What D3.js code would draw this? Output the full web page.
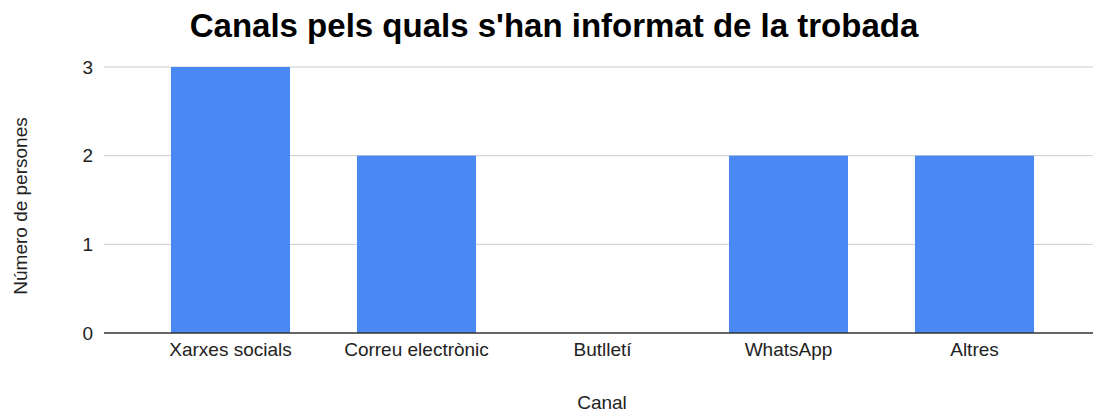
<!DOCTYPE html>
<html>
<head>
<meta charset="utf-8">
<script src="https://cdn.jsdelivr.net/npm/d3@7"></script>
<style>
  body { margin: 0; background: #fff; }
  text { font-family: "Liberation Sans", Arial, sans-serif; }
</style>
</head>
<body>
<div id="chart"></div>
<script>
var canals = ["Xarxes socials", "Correu electrònic", "Butlletí", "WhatsApp", "Altres"];
var persones = [3, 2, 0, 2, 2];
var yTicks = [0, 1, 2, 3];

var svgWidth = 1094;
var svgHeight = 414;

var margin = { top: 67, right: 1, bottom: 81, left: 104 };
var width = svgWidth - margin.left - margin.right;
var height = svgHeight - margin.top - margin.bottom;

var svg = d3.select("#chart")
  .append("svg")
  .attr("width", svgWidth)
  .attr("height", svgHeight);

var chartGroup = svg.append("g")
  .attr("transform", `translate(${margin.left}, ${margin.top})`);

// scales
var xScale = d3.scaleBand()
  .domain(canals)
  .range([33.5, 963.5])
  .paddingInner(0.36)
  .paddingOuter(0.18);

var yScale = d3.scaleLinear()
  .domain([0, 3])
  .range([height, 0]);

// gridlines
chartGroup.append("g")
  .selectAll("line")
  .data(yTicks.filter(d => d > 0))
  .enter()
  .append("line")
  .attr("x1", 0)
  .attr("x2", width)
  .attr("y1", d => yScale(d))
  .attr("y2", d => yScale(d))
  .attr("stroke", "#cccccc")
  .attr("stroke-width", 1);

// y tick labels
var yAxis = d3.axisLeft(yScale).tickValues(yTicks).tickSize(0).tickPadding(11).tickFormat(d3.format("d"));
var yG = chartGroup.append("g").call(yAxis);
yG.select(".domain").remove();
yG.selectAll("text")
  .attr("font-size", 19)
  .attr("fill", "#222")
  .style("font-family", "Liberation Sans, Arial, sans-serif");

// bars
chartGroup.selectAll("rect.bar")
  .data(canals)
  .enter()
  .append("rect")
  .attr("class", "bar")
  .attr("x", d => xScale(d))
  .attr("width", xScale.bandwidth())
  .attr("y", (d, i) => yScale(persones[i]))
  .attr("height", (d, i) => height - yScale(persones[i]))
  .attr("fill", "#4a89f3");

// baseline
chartGroup.append("line")
  .attr("x1", 0)
  .attr("x2", width)
  .attr("y1", yScale(0))
  .attr("y2", yScale(0))
  .attr("stroke", "#333333")
  .attr("stroke-width", 1.3);

// x labels
var xAxis = d3.axisBottom(xScale).tickSize(0).tickPadding(10);
var xG = chartGroup.append("g")
  .attr("transform", `translate(0, ${height})`)
  .call(xAxis);
xG.select(".domain").remove();
xG.selectAll("text")
  .attr("font-size", 19)
  .attr("fill", "#222")
  .style("font-family", "Liberation Sans, Arial, sans-serif");

// title
svg.append("text")
  .attr("x", 554)
  .attr("y", 37)
  .attr("text-anchor", "middle")
  .attr("font-size", 33)
  .attr("font-weight", "bold")
  .attr("fill", "#000")
  .text("Canals pels quals s'han informat de la trobada");

// axis titles
svg.append("text")
  .attr("x", 602)
  .attr("y", 409)
  .attr("text-anchor", "middle")
  .attr("font-size", 19)
  .attr("fill", "#222")
  .text("Canal");

svg.append("text")
  .attr("transform", "translate(27, 206) rotate(-90)")
  .attr("text-anchor", "middle")
  .attr("font-size", 19)
  .attr("fill", "#222")
  .text("Número de persones");
</script>
</body>
</html>
